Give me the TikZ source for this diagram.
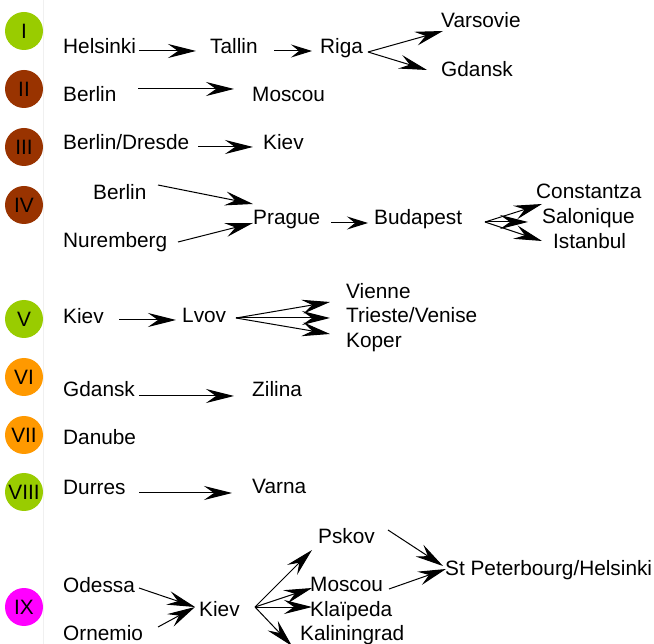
\documentclass[tikz,border=0pt]{standalone}
\usepackage{fontspec}
\setmainfont{Liberation Sans}
\usetikzlibrary{arrows.meta}
\definecolor{cgreen}{HTML}{99CC00}
\definecolor{cbrown}{HTML}{993300}
\definecolor{corange}{HTML}{FF9900}
\definecolor{cmagenta}{HTML}{FF00FF}
\tikzset{
  circ/.style={circle, minimum size=38pt, inner sep=0pt, font=\fontsize{20.8}{24}\selectfont},
  city/.style={anchor=base west, inner sep=0pt, font=\fontsize{20.8}{24}\selectfont},
  arr/.style={draw=black, line width=1pt, -{Stealth[length=28pt,width=14pt,inset=10pt]}},
  sarr/.style={draw=black, line width=1pt, -{Stealth[length=21pt,width=13pt,inset=8pt]}}
}
\begin{document}
\begin{tikzpicture}[x=1pt,y=-1pt]
\useasboundingbox (0,0) rectangle (654,644);
\fill[white] (0,0) rectangle (654,644);
\draw[black!6, line width=0.6pt] (43,0) -- (43,644);
% circles
\node[circ, fill=cgreen] (c1) at (24,31) {I};
\node[circ, fill=cbrown] (c2) at (24,89) {II};
\node[circ, fill=cbrown] (c3) at (24,147) {III};
\node[circ, fill=cbrown] (c4) at (24,205) {IV};
\node[circ, fill=cgreen] (c5) at (24,319) {V};
\node[circ, fill=corange] (c6) at (24,377) {VI};
\node[circ, fill=corange] (c7) at (24,435) {VII};
\node[circ, fill=cgreen] (c8) at (24,492) {VIII};
\node[circ, fill=cmagenta] (c9) at (24,607) {IX};
% row I
\node[city] (helsinki) at (63,53.5) {Helsinki};
\node[city] (tallin) at (210,53.5) {Tallin};
\node[city] (riga) at (320,53.5) {Riga};
\node[city] (varsovie) at (441,27.5) {Varsovie};
\node[city] (gdanskA) at (441,76.5) {Gdansk};
% row II
\node[city] (berlinA) at (63,101.5) {Berlin};
\node[city] (moscouA) at (252,101.5) {Moscou};
% row III
\node[city] (berlinB) at (63,150) {Berlin/Dresde};
\node[city] (kievA) at (263,150) {Kiev};
% row IV
\node[city] (berlinC) at (93,200) {Berlin};
\node[city] (nuremberg) at (63,248) {Nuremberg};
\node[city] (prague) at (253,224.5) {Prague};
\node[city] (budapest) at (374,224.5) {Budapest};
\node[city] (constantza) at (536,198.5) {Constantza};
\node[city] (salonique) at (542,223.3) {Salonique};
\node[city] (istanbul) at (553,248.3) {Istanbul};
% row V
\node[city] (kievB) at (63,323.3) {Kiev};
\node[city] (lvov) at (182,323) {Lvov};
\node[city] (vienne) at (346,298.5) {Vienne};
\node[city] (trieste) at (346,323) {Trieste/Venise};
\node[city] (koper) at (346,347.5) {Koper};
% row VI
\node[city] (gdanskB) at (63,396.7) {Gdansk};
\node[city] (zilina) at (252,396.7) {Zilina};
% row VII
\node[city] (danube) at (63,445) {Danube};
% row VIII
\node[city] (durres) at (63,494) {Durres};
\node[city] (varna) at (252,493.3) {Varna};
% row IX
\node[city] (odessa) at (63,592.7) {Odessa};
\node[city] (ornemio) at (63,640) {Ornemio};
\node[city] (kievC) at (199,616.5) {Kiev};
\node[city] (pskov) at (318,543.3) {Pskov};
\node[city] (moscouC) at (310,591.7) {Moscou};
\node[city] (klaipeda) at (310,616) {Klaïpeda};
\node[city] (kaliningrad) at (300,640.7) {Kaliningrad};
\node[city] (stp) at (445,575) {St Peterbourg/Helsinki};
% connectors
\draw[arr] ([shift={(76,-2.5)}]helsinki.base west) -- ([shift={(-14,-2.5)}]tallin.base west);
\draw[sarr] ([shift={(64,-2.5)}]tallin.base west) -- ([shift={(-8,-2.5)}]riga.base west);
\draw[arr] ([shift={(48,-1.5)}]riga.base west) -- ([shift={(2,3.5)}]varsovie.base west);
\draw[arr] ([shift={(48,-1.5)}]riga.base west) -- ([shift={(-14,-6.5)}]gdanskA.base west);
\draw[arr] ([shift={(75,-12.5)}]berlinA.base west) -- ([shift={(-18,-12.5)}]moscouA.base west);
\draw[arr] ([shift={(135,-3)}]berlinB.base west) -- ([shift={(-10,-3)}]kievA.base west);
\draw[arr] ([shift={(65,-15)}]berlinC.base west) -- ([shift={(0,-20.5)}]prague.base west);
\draw[arr] ([shift={(115,-6)}]nuremberg.base west) -- ([shift={(0,-1.5)}]prague.base west);
\draw[sarr] ([shift={(78,-1.5)}]prague.base west) -- ([shift={(-6,-1.5)}]budapest.base west);
\draw[arr] ([shift={(111,-2.5)}]budapest.base west) -- ([shift={(6,5.5)}]constantza.base west);
\draw[arr] ([shift={(111,-2.5)}]budapest.base west) -- ([shift={(-14,-1.3)}]salonique.base west);
\draw[arr] ([shift={(111,-2.5)}]budapest.base west) -- ([shift={(-11,-7.3)}]istanbul.base west);
\draw[arr] ([shift={(56,-3.3)}]kievB.base west) -- ([shift={(-6,-3)}]lvov.base west);
\draw[arr] ([shift={(54,-5)}]lvov.base west) -- ([shift={(-16,3.5)}]vienne.base west);
\draw[arr] ([shift={(54,-5)}]lvov.base west) -- ([shift={(-16,-5)}]trieste.base west);
\draw[arr] ([shift={(54,-5)}]lvov.base west) -- ([shift={(-16,-13.5)}]koper.base west);
\draw[arr] ([shift={(76,-0.7)}]gdanskB.base west) -- ([shift={(-18,-0.7)}]zilina.base west);
\draw[arr] ([shift={(76,-1)}]durres.base west) -- ([shift={(-20,-0.3)}]varna.base west);
\draw[arr] ([shift={(76,-4.7)}]odessa.base west) -- ([shift={(-4,-9.5)}]kievC.base west);
\draw[arr] ([shift={(95,-13)}]ornemio.base west) -- ([shift={(-4,-9.5)}]kievC.base west);
\draw[arr] ([shift={(56,-9.5)}]kievC.base west) -- ([shift={(-6,6.7)}]pskov.base west);
\draw[arr] ([shift={(56,-9.5)}]kievC.base west) -- ([shift={(2,-3.7)}]moscouC.base west);
\draw[arr] ([shift={(56,-9.5)}]kievC.base west) -- ([shift={(2,-9)}]klaipeda.base west);
\draw[arr] ([shift={(56,-9.5)}]kievC.base west) -- ([shift={(-8,5.3)}]kaliningrad.base west);
\draw[arr] ([shift={(70,-13.3)}]pskov.base west) -- ([shift={(-2,-9)}]stp.base west);
\draw[arr] ([shift={(79,-2.7)}]moscouC.base west) -- ([shift={(1,-6)}]stp.base west);
\end{tikzpicture}
\end{document}
